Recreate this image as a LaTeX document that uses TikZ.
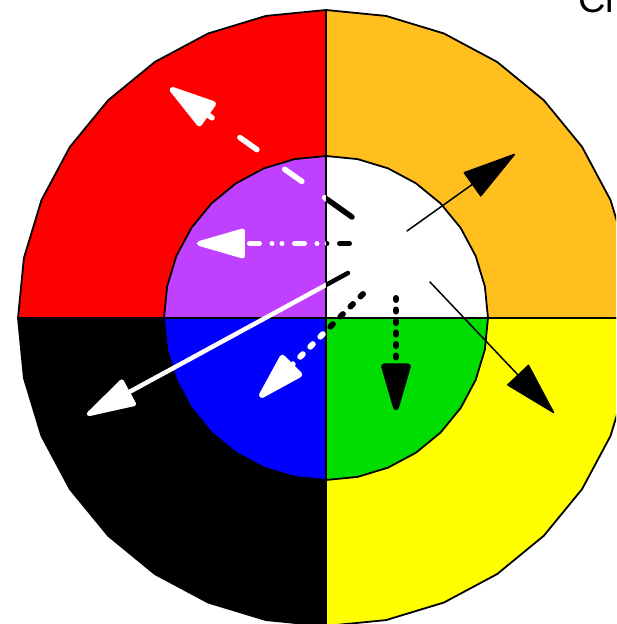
\documentclass[tikz,border=0pt]{standalone}
\usepackage{fontspec}
\usepackage{tikz}
\usetikzlibrary{arrows.meta}
\newfontfamily\titlefont{Liberation Sans}
\definecolor{ringgold}{HTML}{FFBF1F}
\definecolor{ringred}{HTML}{FF0000}
\definecolor{ringviolet}{HTML}{C040FF}
\definecolor{ringblue}{HTML}{0000FF}
\definecolor{ringgreen}{HTML}{00DD00}
\definecolor{ringyellow}{HTML}{FFFF00}
\tikzset{
  sector/.style={draw=black,line width=1.8pt,line join=round},
  arr/.style={-{Triangle[length=55pt,width=30pt,round]},line cap=round},
}
\newcommand{\arrowset}[1]{%
  \draw[arr,#1,line width=5.5pt,dash pattern=on 33.5pt off 28pt on 21pt off 34pt on 21pt off 34pt on 21pt off 34pt] (dashS) -- (dashT);
  \draw[arr,#1,line width=5pt,dash pattern=on 10pt off 12.5pt on 0pt off 10pt on 0pt off 12.5pt] (dotdashS) -- (dotdashT);
  \draw[arr,#1,line width=4.5pt] (solidS) -- (solidT);
  \draw[arr,#1,line width=6pt,dash pattern=on 3.5pt off 10.7pt] (dotS) -- (dotT);
  \draw[arr,#1,line width=6pt,dash pattern=on 2pt off 9.5pt] (vdotS) -- (vdotT);
  \draw[arr,#1,line width=1.5pt] (upS) -- (upT);
  \draw[arr,#1,line width=1.5pt] (downS) -- (downT);
}

\begin{document}
\begin{tikzpicture}[x=1pt,y=1pt]
  \useasboundingbox (-326,-306) rectangle (290,318);
  \clip (-326,-306) rectangle (290,318);
  \foreach \a/\cout in {0/ringgold,90/ringred,180/black,270/ringyellow}
    \filldraw[sector,fill=\cout] (0,0) -- plot[samples at={0,...,8}] ({\a+11.25*\x}:308) -- cycle;
  \foreach \a/\cin in {0/white,90/ringviolet,180/ringblue,270/ringgreen}
    \filldraw[sector,fill=\cin] (0,0) -- plot[samples at={0,...,8}] ({\a+11.25*\x}:162) -- cycle;
  \coordinate (dashS) at (26,101);
  \coordinate (dashT) at (-156,230);
  \coordinate (dotdashS) at (23.5,74.5);
  \coordinate (dotdashT) at (-129,74.5);
  \coordinate (solidS) at (22,45);
  \coordinate (solidT) at (-239,-97);
  \coordinate (dotS) at (37,24);
  \coordinate (dotT) at (-66,-79);
  \coordinate (vdotS) at (70,20);
  \coordinate (vdotT) at (70,-92);
  \coordinate (upS) at (81,87);
  \coordinate (upT) at (189,164);
  \coordinate (downS) at (104,36);
  \coordinate (downT) at (228,-95);
  \begin{scope}
    \clip (-326,-306) rectangle (0,318);
    \arrowset{white}
  \end{scope}
  \begin{scope}
    \clip (0,-306) rectangle (290,318);
    \arrowset{black}
  \end{scope}
  \node[font=\titlefont\fontsize{38}{40}\selectfont,anchor=base west,inner sep=0pt] (title) at (252,305.5) {Cl};
\end{tikzpicture}
\end{document}
